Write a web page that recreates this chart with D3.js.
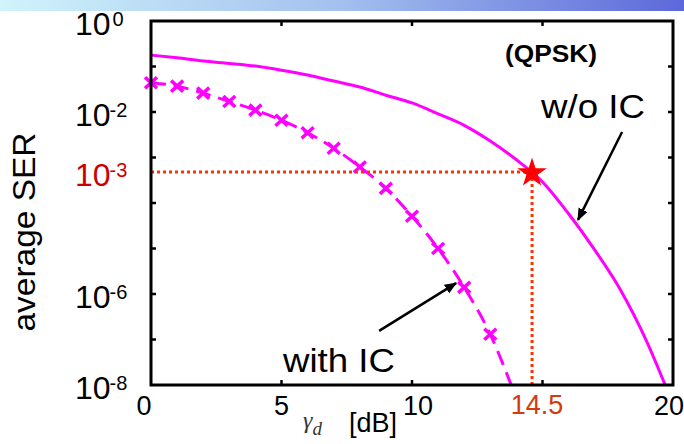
<!DOCTYPE html>
<html><head><meta charset="utf-8">
<script src="https://cdn.jsdelivr.net/npm/d3@7"></script>
<style>html,body{margin:0;padding:0;background:#fff;}svg{display:block;}</style>
</head><body>
<svg id="chart" width="684" height="444"></svg>
<script>
// ---- data ----
const snrWithout = [0,1,2,3,4,5,6,7,8,9,10,11,12,13,14,15,16,17,18,19,19.7];
const serWithout = [1.78e-1,1.55e-1,1.32e-1,1.17e-1,1.02e-1,8.3e-2,6.5e-2,4.8e-2,3.55e-2,2.34e-2,1.58e-2,9.1e-3,5.1e-3,2.3e-3,8.9e-4,2.9e-4,5.8e-5,9.3e-6,1.2e-6,8.9e-8,1.0e-8];
const snrWith = [0,1,2,3,4,5,6,7,8,9,10,11,12,13,13.8];
const serWith = [4.4e-2,3.7e-2,2.6e-2,1.7e-2,1.1e-2,6.6e-3,3.5e-3,1.6e-3,6.2e-4,2.1e-4,5.1e-5,1.0e-5,1.4e-6,1.3e-7,1.0e-8];
const markerSnr = [0,1,2,3,4,5,6,7,8,9,10,11,12,13];
const markerSer = [4.4e-2,3.7e-2,2.6e-2,1.7e-2,1.1e-2,6.6e-3,3.5e-3,1.6e-3,6.2e-4,2.1e-4,5.1e-5,1.0e-5,1.4e-6,1.3e-7];
const xTicks = [0,5,10,15,20];
const xTickLabels = ["0","5","10","","20"];
const yTickValues = [1,1e-1,1e-2,1e-3,1e-4,1e-5,1e-6,1e-7,1e-8];
const yLabelValues = [1,1e-2,1e-6,1e-8];
const yLabelExp = ["0","-2","-6","-8"];
const targetSnr = 14.6, targetSnrLabel = "14.5";
const targetSer = 4.8e-4, targetSerExp = "-3";

// ---- layout ----
const svg = d3.select("#chart");
const L = 151, R = 673, T = 21, B = 385;
const x = d3.scaleLinear().domain([0,20]).range([L,R]);
const y = d3.scaleLog().domain([1,1e-8]).range([T,B]);
const FONT = "Arial, 'Liberation Sans', Helvetica, sans-serif";
const MAG = "#ff00ff";

// top gradient bar
const defs = svg.append("defs");
const grad = defs.append("linearGradient").attr("id","topg").attr("x1","0").attr("x2","1");
grad.append("stop").attr("offset","0").attr("stop-color","#cff4fb");
grad.append("stop").attr("offset","0.5").attr("stop-color","#a3c0ee");
grad.append("stop").attr("offset","1").attr("stop-color","#5c68da");
svg.append("rect").attr("x",0).attr("y",0).attr("width",684).attr("height",11).attr("fill","url(#topg)");

const mk = defs.append("marker").attr("id","arr").attr("viewBox","0 0 10 10").attr("refX",9).attr("refY",5)
  .attr("markerWidth",5).attr("markerHeight",5).attr("orient","auto").attr("markerUnits","strokeWidth");
mk.append("path").attr("d","M0,1 L10,5 L0,9 Z").attr("fill","#000");

// curves
const line = d3.line().x(d=>x(d[0])).y(d=>y(d[1])).curve(d3.curveMonotoneX);
svg.append("path").datum(snrWithout.map((s,i)=>[s,serWithout[i]]))
  .attr("d",line).attr("fill","none").attr("stroke",MAG).attr("stroke-width",3);
svg.append("path").datum(snrWith.map((s,i)=>[s,serWith[i]]))
  .attr("d",line).attr("fill","none").attr("stroke",MAG).attr("stroke-width",3).attr("stroke-dasharray","15,8");
svg.append("g").selectAll("path").data(markerSnr.map((s,i)=>[s,markerSer[i]])).join("path")
  .attr("transform",d=>`translate(${x(d[0])},${y(d[1])})`)
  .attr("d","M-6,-5.5L6,5.5M-6,5.5L6,-5.5").attr("stroke",MAG).attr("stroke-width",3.5).attr("fill","none");

// target dotted lines
const RED = "#ff3300";
svg.append("line").attr("x1",x(0)).attr("x2",x(targetSnr)).attr("y1",y(targetSer)).attr("y2",y(targetSer))
  .attr("stroke",RED).attr("stroke-width",3).attr("stroke-dasharray","3,3");
svg.append("line").attr("x1",x(targetSnr)).attr("x2",x(targetSnr)).attr("y1",y(targetSer)).attr("y2",B)
  .attr("stroke",RED).attr("stroke-width",3).attr("stroke-dasharray","3,3");
svg.append("path").attr("d",d3.symbol(d3.symbolStar,270)())
  .attr("transform",`translate(${x(targetSnr)},${y(targetSer)+1})`).attr("fill","#ff0000");

// frame and ticks
svg.append("rect").attr("x",L).attr("y",T).attr("width",R-L).attr("height",B-T)
  .attr("fill","none").attr("stroke","#000").attr("stroke-width",3);
const tk = svg.append("g").attr("stroke","#000").attr("stroke-width",2.5);
xTicks.slice(1,-1).forEach(t=>{
  tk.append("line").attr("x1",x(t)).attr("x2",x(t)).attr("y1",B).attr("y2",B-5);
  tk.append("line").attr("x1",x(t)).attr("x2",x(t)).attr("y1",T).attr("y2",T+5);
});
yTickValues.slice(1,-1).forEach(v=>{
  tk.append("line").attr("x1",L).attr("x2",L+5).attr("y1",y(v)).attr("y2",y(v));
  tk.append("line").attr("x1",R).attr("x2",R-5).attr("y1",y(v)).attr("y2",y(v));
});

// x tick labels
xTicks.forEach((t,i)=>{
  if(!xTickLabels[i]) return;
  svg.append("text").attr("x",x(t)+(t===0?-7:t===10?6:t===20?-4:0)).attr("y",415).attr("text-anchor","middle")
    .attr("font-family",FONT).attr("font-size",27).attr("fill","#000").text(xTickLabels[i]);
});
svg.append("text").attr("x",x(targetSnr)+5).attr("y",414).attr("text-anchor","middle")
  .attr("font-family",FONT).attr("font-size",27).attr("fill","#d23a10").text(targetSnrLabel);

// y tick labels
function yLabel(v, exp, color){
  const t = svg.append("text").attr("x",75).attr("y",y(v)+14).attr("font-family",FONT).attr("fill",color);
  t.append("tspan").attr("font-size",32).text("10");
  t.append("tspan").attr("font-size",20).attr("dy",-9).attr("dx",exp==="0"?2:-1).text(exp);
}
yLabelValues.forEach((v,i)=>yLabel(v,yLabelExp[i],"#000"));
yLabel(targetSer,targetSerExp,"#cc0000");

// axis titles
svg.append("text").attr("transform","translate(35,232) rotate(-90)").attr("text-anchor","middle")
  .attr("font-family",FONT).attr("font-size",32).attr("textLength",199).attr("lengthAdjust","spacingAndGlyphs")
  .attr("fill","#000").text("average SER");
const xt = svg.append("text").attr("x",303).attr("y",428).attr("font-family","'Times New Roman','Liberation Serif',serif")
  .attr("fill","#333");
xt.append("tspan").attr("font-style","italic").attr("font-size",24).text("γ");
xt.append("tspan").attr("font-style","italic").attr("font-size",19).attr("dy",7).text("d");
svg.append("text").attr("x",349).attr("y",432).attr("font-family",FONT).attr("font-size",27).attr("fill","#000").text("[dB]");

// annotations
svg.append("text").attr("x",505).attr("y",62).attr("font-family",FONT).attr("font-weight","bold")
  .attr("font-size",23).attr("textLength",92).attr("lengthAdjust","spacingAndGlyphs").attr("fill","#000").text("(QPSK)");
svg.append("text").attr("x",541).attr("y",118).attr("font-family",FONT).attr("font-size",33)
  .attr("textLength",104).attr("lengthAdjust","spacingAndGlyphs").attr("fill","#000").text("w/o IC");
svg.append("text").attr("x",283).attr("y",372).attr("font-family",FONT).attr("font-size",33)
  .attr("textLength",112).attr("lengthAdjust","spacingAndGlyphs").attr("fill","#000").text("with IC");
svg.append("line").attr("x1",x(18.05)).attr("y1",y(Math.pow(10,-2.44))).attr("x2",x(16.36)).attr("y2",y(Math.pow(10,-4.37)))
  .attr("stroke","#000").attr("stroke-width",2.5).attr("marker-end","url(#arr)");
svg.append("line").attr("x1",x(8.74)).attr("y1",y(Math.pow(10,-6.81))).attr("x2",x(11.69)).attr("y2",y(Math.pow(10,-5.76)))
  .attr("stroke","#000").attr("stroke-width",2.5).attr("marker-end","url(#arr)");
</script>
</body></html>
